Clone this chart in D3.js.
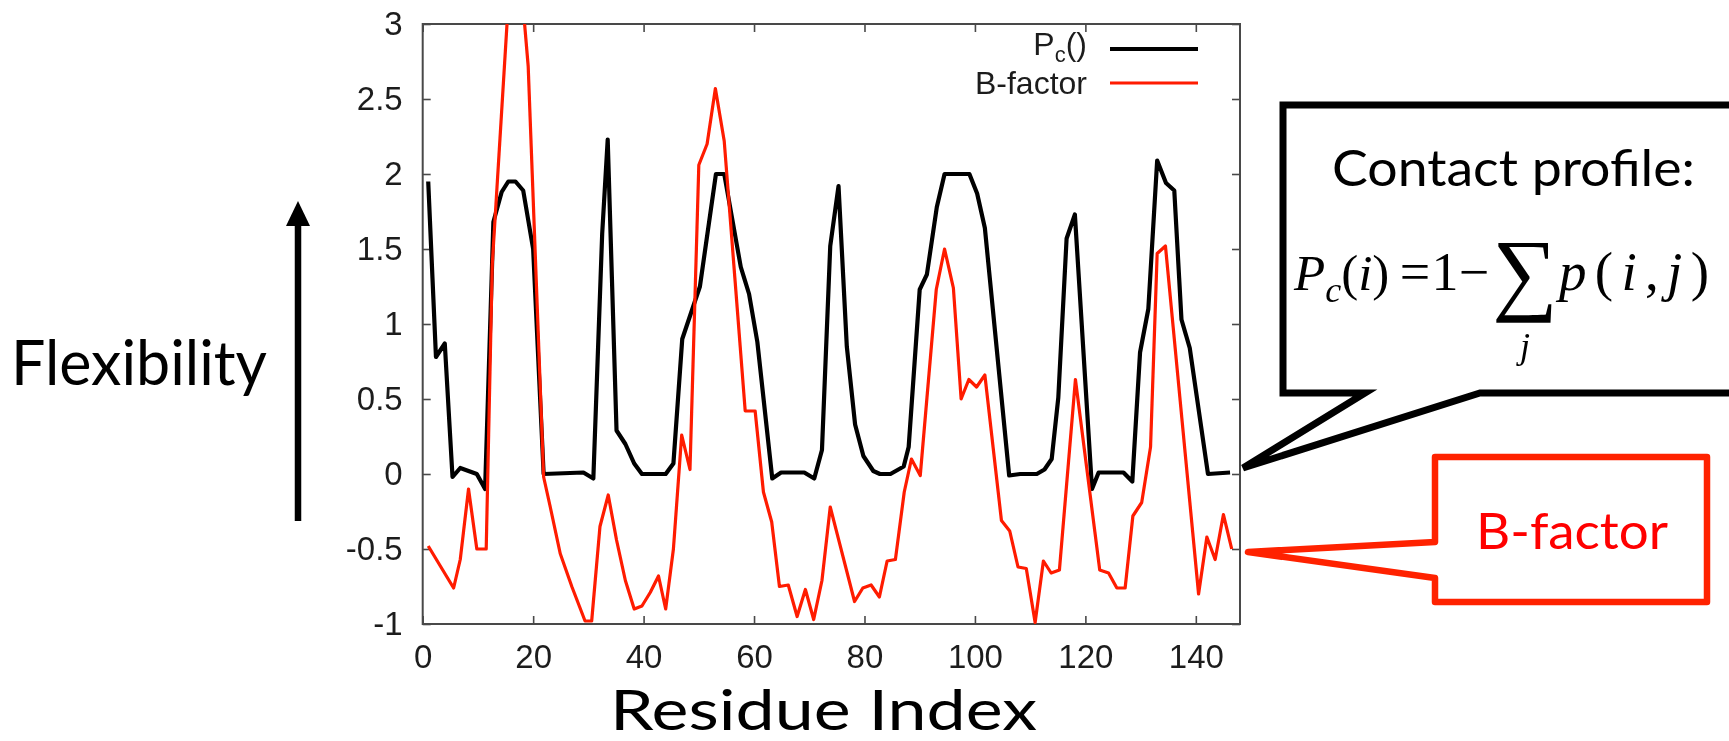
<!DOCTYPE html>
<html>
<head>
<meta charset="utf-8">
<script src="https://cdn.jsdelivr.net/npm/d3@7"></script>
<style>
  html, body { margin: 0; padding: 0; background: #fff; overflow: hidden; }
  svg { display: block; }
</style>
</head>
<body>
<svg id="chart" width="1729" height="741"></svg>
<script>
// Contact profile Pc(i) per residue (vertices of the plotted line)
const pcResidue = [1.0, 2.4, 4.0, 5.4, 6.8, 9.8, 11.3, 12.8, 14.3, 15.5, 16.8, 18.2, 20.0, 21.9,
  29.1, 30.9, 32.5, 33.5, 35.1, 36.7, 38.3, 39.7, 44.0, 45.4, 47.0, 50.2, 53.1, 54.6, 57.6,
  59.1, 60.6, 63.3, 64.9, 69.1, 70.9, 72.3, 73.8, 75.3, 76.8, 78.3, 79.8, 81.6, 82.8, 84.7,
  87.1, 88.0, 90.0, 91.3, 93.1, 94.5, 99.0, 100.4, 101.8, 106.2, 108.2, 111.2, 112.6, 113.9,
  115.1, 116.6, 118.1, 121.2, 122.4, 126.9, 128.5, 129.9, 131.4, 133.0, 134.6, 136.1, 137.4,
  138.9, 142.2, 146.2];
const pcValue = [1.95, 0.78, 0.87, -0.02, 0.04, 0.0, -0.1, 1.68, 1.88, 1.95, 1.95, 1.89, 1.5, 0.0,
  0.01, -0.03, 1.6, 2.23, 0.29, 0.2, 0.07, 0.0, 0.0, 0.07, 0.9, 1.25, 2.0, 2.0, 1.38,
  1.2, 0.88, -0.03, 0.01, 0.01, -0.03, 0.16, 1.52, 1.92, 0.85, 0.33, 0.12, 0.02, 0.0, 0.0,
  0.05, 0.18, 1.23, 1.33, 1.78, 2.0, 2.0, 1.87, 1.64, -0.01, 0.0, 0.0, 0.03, 0.1,
  0.51, 1.57, 1.73, -0.1, 0.01, 0.01, -0.05, 0.81, 1.1, 2.09, 1.94, 1.89, 1.03,
  0.84, 0.0, 0.01];

// Normalised crystallographic B-factor per residue
const bResidue = [1.0, 5.6, 6.8, 8.3, 9.8, 11.5, 12.6, 16.6, 19.1, 21.9, 23.1, 24.9, 27.0, 29.4,
  30.6, 32.1, 33.6, 35.1, 36.7, 38.3, 39.7, 41.2, 42.7, 44.0, 45.4, 46.9, 48.4, 50.0, 51.5,
  53.0, 54.6, 58.4, 60.2, 61.7, 63.2, 64.6, 66.2, 67.8, 69.3, 70.8, 72.3, 73.8, 78.2, 79.7,
  81.2, 82.7, 84.1, 85.6, 87.2, 88.5, 90.1, 93.0, 94.5, 96.1, 97.5, 98.9, 100.3, 101.8,
  104.8, 106.3, 107.8, 109.3, 110.9, 112.4, 113.8, 115.3, 118.2, 122.6, 124.2, 125.7, 127.2,
  128.6, 130.2, 131.8, 133.0, 134.5, 140.5, 142.0, 143.5, 145.0, 146.5];
const bValue = [-0.48, -0.76, -0.57, -0.1, -0.5, -0.5, 1.4, 3.8, 2.72, -0.02, -0.22, -0.53, -0.75, -0.98,
  -0.98, -0.35, -0.14, -0.44, -0.71, -0.9, -0.88, -0.79, -0.68, -0.9, -0.5, 0.26, 0.03, 2.06, 2.2,
  2.57, 2.22, 0.42, 0.42, -0.12, -0.32, -0.75, -0.74, -0.95, -0.77, -0.97, -0.71, -0.22, -0.85, -0.76,
  -0.74, -0.82, -0.58, -0.57, -0.12, 0.1, -0.01, 1.23, 1.5, 1.24, 0.5, 0.63, 0.58, 0.66,
  -0.31, -0.38, -0.62, -0.63, -0.99, -0.58, -0.66, -0.64, 0.63, -0.64, -0.66, -0.76, -0.76,
  -0.28, -0.19, 0.18, 1.47, 1.52, -0.8, -0.42, -0.57, -0.27, -0.5];

const xTicks = [0, 20, 40, 60, 80, 100, 120, 140];
const xTickLabels = ["0", "20", "40", "60", "80", "100", "120", "140"];
const yTicks = [-1, -0.5, 0, 0.5, 1, 1.5, 2, 2.5, 3];
const yTickLabels = ["-1", "-0.5", "0", "0.5", "1", "1.5", "2", "2.5", "3"];
const xDomain = [0, 148];
const yDomain = [-1, 3];

const plot = { left: 422.7, right: 1240, top: 24, bottom: 624 };
const svg = d3.select("#chart");

const defs = svg.append("defs");
defs.append("clipPath").attr("id", "plot-clip")
  .append("rect")
  .attr("x", plot.left).attr("y", plot.top)
  .attr("width", plot.right - plot.left).attr("height", plot.bottom - plot.top);
defs.append("filter").attr("id", "soft")
  .attr("x", "-5%").attr("y", "-5%").attr("width", "110%").attr("height", "110%")
  .append("feGaussianBlur").attr("stdDeviation", 0.6);

svg.append("rect").attr("width", 1729).attr("height", 741).attr("fill", "#fff");

const x = d3.scaleLinear().domain(xDomain).range([plot.left, plot.right]);
const y = d3.scaleLinear().domain(yDomain).range([plot.bottom, plot.top]);

const g = svg.append("g").attr("filter", "url(#soft)");

const tickFont = "'Liberation Sans', Arial, sans-serif";
const axisColor = "#4a4a4a";

// axes with inward ticks (labels on left and bottom, mirrored ticks on right and top)
function styleAxis(sel) {
  sel.select(".domain").remove();
  sel.selectAll(".tick line").attr("stroke", axisColor).attr("stroke-width", 1.6);
  sel.selectAll(".tick text").attr("fill", "#1e1e1e").attr("font-family", tickFont)
    .attr("font-size", 33);
}

g.append("g").attr("transform", `translate(${plot.left},0)`)
  .call(d3.axisLeft(y).tickValues(yTicks).tickSizeInner(-8).tickSizeOuter(0).tickPadding(20)
    .tickFormat((d, i) => yTickLabels[i]))
  .call(styleAxis);
g.append("g").attr("transform", `translate(${plot.right},0)`)
  .call(d3.axisRight(y).tickValues(yTicks).tickSizeInner(-8).tickSizeOuter(0).tickFormat(""))
  .call(styleAxis);
g.append("g").attr("transform", `translate(0,${plot.bottom})`)
  .call(d3.axisBottom(x).tickValues(xTicks).tickSizeInner(-8).tickSizeOuter(0).tickPadding(21)
    .tickFormat((d, i) => xTickLabels[i]))
  .call(styleAxis);
g.append("g").attr("transform", `translate(0,${plot.top})`)
  .call(d3.axisTop(x).tickValues(xTicks).tickSizeInner(-8).tickSizeOuter(0).tickFormat(""))
  .call(styleAxis);

// plot border
g.append("rect")
  .attr("x", plot.left).attr("y", plot.top)
  .attr("width", plot.right - plot.left).attr("height", plot.bottom - plot.top)
  .attr("fill", "none").attr("stroke", axisColor).attr("stroke-width", 2);

const line = d3.line().x(d => x(d[0])).y(d => y(d[1]));
const lines = g.append("g").attr("clip-path", "url(#plot-clip)");

lines.append("path")
  .datum(pcResidue.map((r, i) => [r, pcValue[i]]))
  .attr("d", line).attr("fill", "none").attr("stroke", "#000")
  .attr("stroke-width", 4.2).attr("stroke-linejoin", "round");

lines.append("path")
  .datum(bResidue.map((r, i) => [r, bValue[i]]))
  .attr("d", line).attr("fill", "none").attr("stroke", "#ff1a00")
  .attr("stroke-width", 3.2).attr("stroke-linejoin", "round");

// key
const legend = g.append("g").attr("font-family", tickFont).attr("fill", "#1e1e1e");
const pcKey = legend.append("text").attr("x", 1087).attr("y", 55)
  .attr("text-anchor", "end").attr("font-size", 32);
pcKey.append("tspan").text("P");
pcKey.append("tspan").attr("dy", 7).attr("font-size", 22).text("c");
pcKey.append("tspan").attr("dy", -7).text("()");
legend.append("text").attr("x", 1087).attr("y", 94)
  .attr("text-anchor", "end").attr("font-size", 32).text("B-factor");
legend.append("line").attr("x1", 1110).attr("x2", 1198).attr("y1", 49).attr("y2", 49)
  .attr("stroke", "#000").attr("stroke-width", 4.2);
legend.append("line").attr("x1", 1110).attr("x2", 1198).attr("y1", 83).attr("y2", 83)
  .attr("stroke", "#ff1a00").attr("stroke-width", 3.2);

// annotations around the plot
const labelFont = "Lato, 'Open Sans', sans-serif";

svg.append("text").attr("x", 610).attr("y", 730)
  .attr("font-family", labelFont).attr("font-size", 57).attr("fill", "#000")
  .attr("textLength", 427).attr("lengthAdjust", "spacingAndGlyphs")
  .text("Residue Index");

svg.append("text").attr("x", 11).attr("y", 385)
  .attr("font-family", labelFont).attr("font-size", 62).attr("fill", "#000")
  .attr("textLength", 256).attr("lengthAdjust", "spacingAndGlyphs")
  .text("Flexibility");

// upward arrow
svg.append("line").attr("x1", 298).attr("x2", 298).attr("y1", 521).attr("y2", 222)
  .attr("stroke", "#000").attr("stroke-width", 6.5);
svg.append("path").attr("d", "M286,226 L310,226 L298,201 Z").attr("fill", "#000");

// black speech bubble for the contact profile
svg.append("path")
  .attr("d", "M1745,105 L1283,105 L1283,393 L1365,393 L1243,468 L1480,393 L1745,393")
  .attr("fill", "#fff").attr("stroke", "#000").attr("stroke-width", 7)
  .attr("stroke-linejoin", "miter");

svg.append("text").attr("x", 1332).attr("y", 186)
  .attr("font-family", labelFont).attr("font-size", 50).attr("fill", "#000")
  .attr("textLength", 363).attr("lengthAdjust", "spacingAndGlyphs")
  .text("Contact profile:");

// Pc(i) = 1 - sum_j p(i,j), typeset piece by piece
const serif = "'Liberation Serif', 'DejaVu Serif', serif";
const formula = svg.append("g").attr("fill", "#000");
function mathText(xPos, yPos, size, anchor) {
  return formula.append("text").attr("x", xPos).attr("y", yPos)
    .attr("font-family", serif).attr("font-size", size)
    .attr("text-anchor", anchor || "start");
}
const lhs = mathText(1294, 290, 51);
lhs.append("tspan").attr("font-style", "italic").text("P");
lhs.append("tspan").attr("dy", 12).attr("font-size", 36).attr("font-style", "italic").text("c");
lhs.append("tspan").attr("dy", -12).text("(");
lhs.append("tspan").attr("font-style", "italic").text("i");
lhs.append("tspan").text(")");
mathText(1415, 290, 54, "middle").text("=");
mathText(1445, 290, 54, "middle").text("1");
mathText(1474, 290, 54, "middle").text("\u2212");
mathText(1525, 303, 92, "middle").text("\u2211");
mathText(1525, 358, 36, "middle").attr("font-style", "italic").text("j");
const pij = mathText(1559, 290, 55)
  .attr("textLength", 150).attr("lengthAdjust", "spacing");
pij.append("tspan").attr("font-style", "italic").text("p");
pij.append("tspan").text("(");
pij.append("tspan").attr("font-style", "italic").text("i");
pij.append("tspan").text(",");
pij.append("tspan").attr("font-style", "italic").text("j");
pij.append("tspan").text(")");

// red speech bubble for the B-factor
svg.append("path")
  .attr("d", "M1435,457 L1707,457 L1707,602 L1435,602 L1435,578 L1248,552 L1435,542 Z")
  .attr("fill", "#fff").attr("stroke", "#ff2200").attr("stroke-width", 6.5)
  .attr("stroke-linejoin", "round");

svg.append("text").attr("x", 1572).attr("y", 549)
  .attr("font-family", labelFont).attr("font-size", 50).attr("fill", "#ff0000")
  .attr("text-anchor", "middle")
  .attr("textLength", 192).attr("lengthAdjust", "spacingAndGlyphs")
  .text("B-factor");
</script>
</body>
</html>
